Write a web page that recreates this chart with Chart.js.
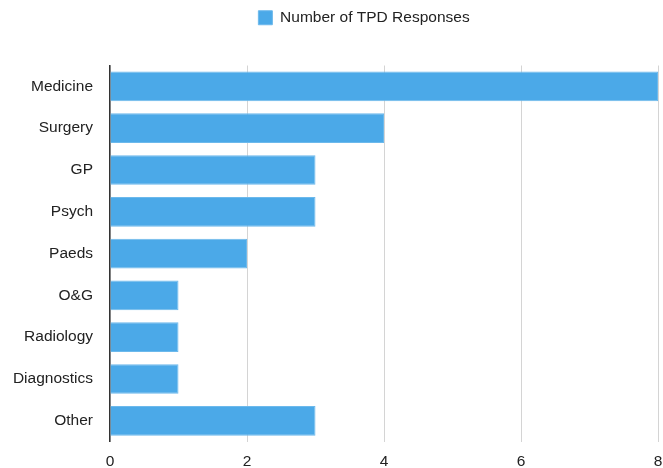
<!DOCTYPE html>
<html>
<head>
<meta charset="utf-8">
<script src="https://cdn.jsdelivr.net/npm/chart.js@4/dist/chart.umd.min.js"></script>
<style>
  html, body { margin: 0; padding: 0; background: #fff; }
</style>
</head>
<body>
<canvas id="chart" width="663" height="468"></canvas>
<script>
const categories = ['Medicine', 'Surgery', 'GP', 'Psych', 'Paeds', 'O&G', 'Radiology', 'Diagnostics', 'Other'];
const responses = [8, 4, 3, 3, 2, 1, 1, 1, 3];
const seriesLabel = 'Number of TPD Responses';

const fontFamily = '"Liberation Sans", Arial, Helvetica, sans-serif';

// push the plot down below the legend and nudge the legend right
const legendGap = {
    id: 'legendGap',
    beforeInit(chart) {
        const origFit = chart.legend.fit;
        chart.legend.fit = function () {
            origFit.bind(chart.legend)();
            this.height += 30;
            if (this.lineWidths && this.lineWidths.length) {
                this.lineWidths[0] -= 70;
            }
        };
    }
};

const ctx = document.getElementById('chart').getContext('2d');
new Chart(ctx, {
    type: 'bar',
    data: {
        labels: categories,
        datasets: [{
            label: seriesLabel,
            data: responses,
            backgroundColor: '#4ba9e8',
            borderColor: '#6cb9ec',
            borderWidth: 1,
            barPercentage: 0.71,
            categoryPercentage: 1
        }]
    },
    options: {
        indexAxis: 'y',
        responsive: false,
        animation: false,
        layout: {
            padding: { top: 0, right: 5, bottom: 0, left: 0 }
        },
        scales: {
            x: {
                min: 0,
                max: 8,
                ticks: {
                    stepSize: 2,
                    color: '#222',
                    padding: 11,
                    font: { family: fontFamily, size: 15.5 }
                },
                grid: {
                    color: '#d4d4d4',
                    drawTicks: false
                },
                border: { display: false },
                afterFit(scale) {
                    scale.height = 26;
                    scale.paddingRight = 0;
                    scale.paddingLeft = 0;
                }
            },
            y: {
                ticks: {
                    color: '#222',
                    padding: 17,
                    font: { family: fontFamily, size: 15.5 }
                },
                grid: { display: false, drawTicks: false },
                border: { display: true, color: '#333', width: 1.5 },
                afterFit(scale) { scale.width = 110; }
            }
        },
        plugins: {
            legend: {
                position: 'top',
                labels: {
                    color: '#222',
                    boxWidth: 14,
                    boxHeight: 14,
                    padding: 10,
                    font: { family: fontFamily, size: 15.5 }
                }
            },
            tooltip: { enabled: false }
        }
    },
    plugins: [legendGap]
});
</script>
</body>
</html>
